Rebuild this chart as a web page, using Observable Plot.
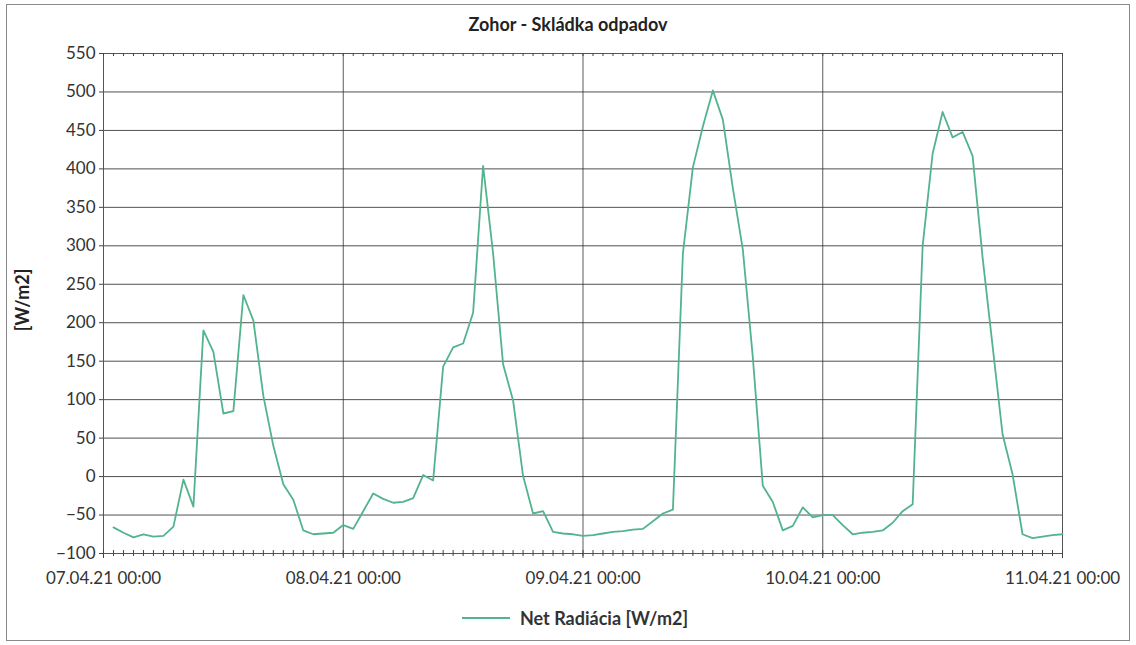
<!DOCTYPE html>
<html>
<head>
<meta charset="utf-8">
<script src="https://cdn.jsdelivr.net/npm/d3@7"></script>
<script src="https://cdn.jsdelivr.net/npm/@observablehq/plot@0.6"></script>
<style>
  body { margin: 0; background: #fff; font-family: Lato, "Open Sans", sans-serif; }
  #frame { position: absolute; left: 6px; top: 4px; width: 1124px; height: 637px; border: 1px solid #8a8a8a; box-sizing: border-box; }
  #title { position: absolute; left: 0; top: 13px; width: 1136px; text-align: center; font-weight: bold; font-size: 18px; color: #222; }
  #ylabel { position: absolute; left: 22px; top: 300px; transform: translate(-50%, -50%) rotate(-90deg); font-weight: bold; font-size: 18px; color: #222; white-space: nowrap; }
  #chart { position: absolute; left: 0; top: 40px; }
  #legend { position: absolute; left: 462px; top: 607px; display: flex; align-items: center; font-size: 18px; font-weight: bold; color: #333; }
  #legend .swatch { width: 48px; height: 0; border-top: 2px solid #52b48c; margin-right: 10px; }
</style>
</head>
<body>
<div id="frame"></div>
<div id="title">Zohor - Skládka odpadov</div>
<div id="ylabel">[W/m2]</div>
<div id="chart"></div>
<div id="legend"><div class="swatch"></div><span>Net Radiácia [W/m2]</span></div>
<script>
// Hourly values (01:00 ... 24:00) for each day, W/m2
const day07 = [-66,-73,-79,-75,-78,-77,-65,-4,-39,190,162,82,85,236,203,105,40,-10,-30,-70,-75,-74,-73,-63];
const day08 = [-68,-45,-22,-29,-34,-33,-28,2,-5,143,168,173,213,404,290,146,99,1,-48,-45,-72,-74,-75,-77];
const day09 = [-76,-74,-72,-71,-69,-68,-58,-48,-43,290,402,455,502,464,375,295,155,-12,-33,-70,-64,-40,-53,-50];
const day10 = [-50,-63,-75,-73,-72,-70,-60,-45,-36,300,420,474,441,448,417,285,170,55,3,-75,-80,-78,-76,-75];

const dayTickLabels = ["07.04.21 00:00", "08.04.21 00:00", "09.04.21 00:00", "10.04.21 00:00", "11.04.21 00:00"];
const yTicks = [-100, -50, 0, 50, 100, 150, 200, 250, 300, 350, 400, 450, 500, 550];
const seriesName = "Net Radiácia [W/m2]";

const parseLabel = d3.utcParse("%d.%m.%y %H:%M");
const formatLabel = d3.utcFormat("%d.%m.%y %H:%M");
const dayDates = dayTickLabels.map(parseLabel);
const start = dayDates[0];
const end = dayDates[dayDates.length - 1];

const days = [day07, day08, day09, day10];
const data = days.flatMap((vals, d) =>
  vals.map((v, i) => ({ time: d3.utcHour.offset(dayDates[d], i + 1), value: v, series: seriesName }))
);
const hourTicks = d3.utcHour.range(start, d3.utcHour.offset(end, 1));

const chart = Plot.plot({
  width: 1136,
  height: 560,
  marginTop: 13,
  marginBottom: 47,
  marginLeft: 103,
  marginRight: 74,
  style: { fontFamily: "Lato, 'Open Sans', sans-serif", fontSize: "17px", color: "#333", background: "transparent", overflow: "visible" },
  x: { type: "utc", domain: [start, end], label: null },
  y: { domain: [-100, 550], label: null },
  marks: [
    Plot.gridY(yTicks, { stroke: "#333", strokeOpacity: 0.85 }),
    Plot.gridX(dayDates, { stroke: "#333", strokeOpacity: 0.8 }),
    Plot.frame({ stroke: "#555" }),
    Plot.ruleX(hourTicks, { stroke: "#444", insetTop: 497 }),
    Plot.ruleX(hourTicks, { stroke: "#444", insetBottom: 497 }),
    Plot.axisX(hourTicks, { tickSize: 3, tickFormat: () => "", stroke: "#444" }),
    Plot.axisX(dayDates, { tickSize: 5, tickPadding: 13, tickFormat: formatLabel, stroke: "#444", fill: "#333" }),
    Plot.axisY(yTicks, { tickSize: 4, tickPadding: 4, stroke: "#444", fill: "#333" }),
    Plot.line(data, { x: "time", y: "value", stroke: "#52b48c", strokeWidth: 1.8 })
  ]
});
document.getElementById("chart").appendChild(chart);
</script>
</body>
</html>
